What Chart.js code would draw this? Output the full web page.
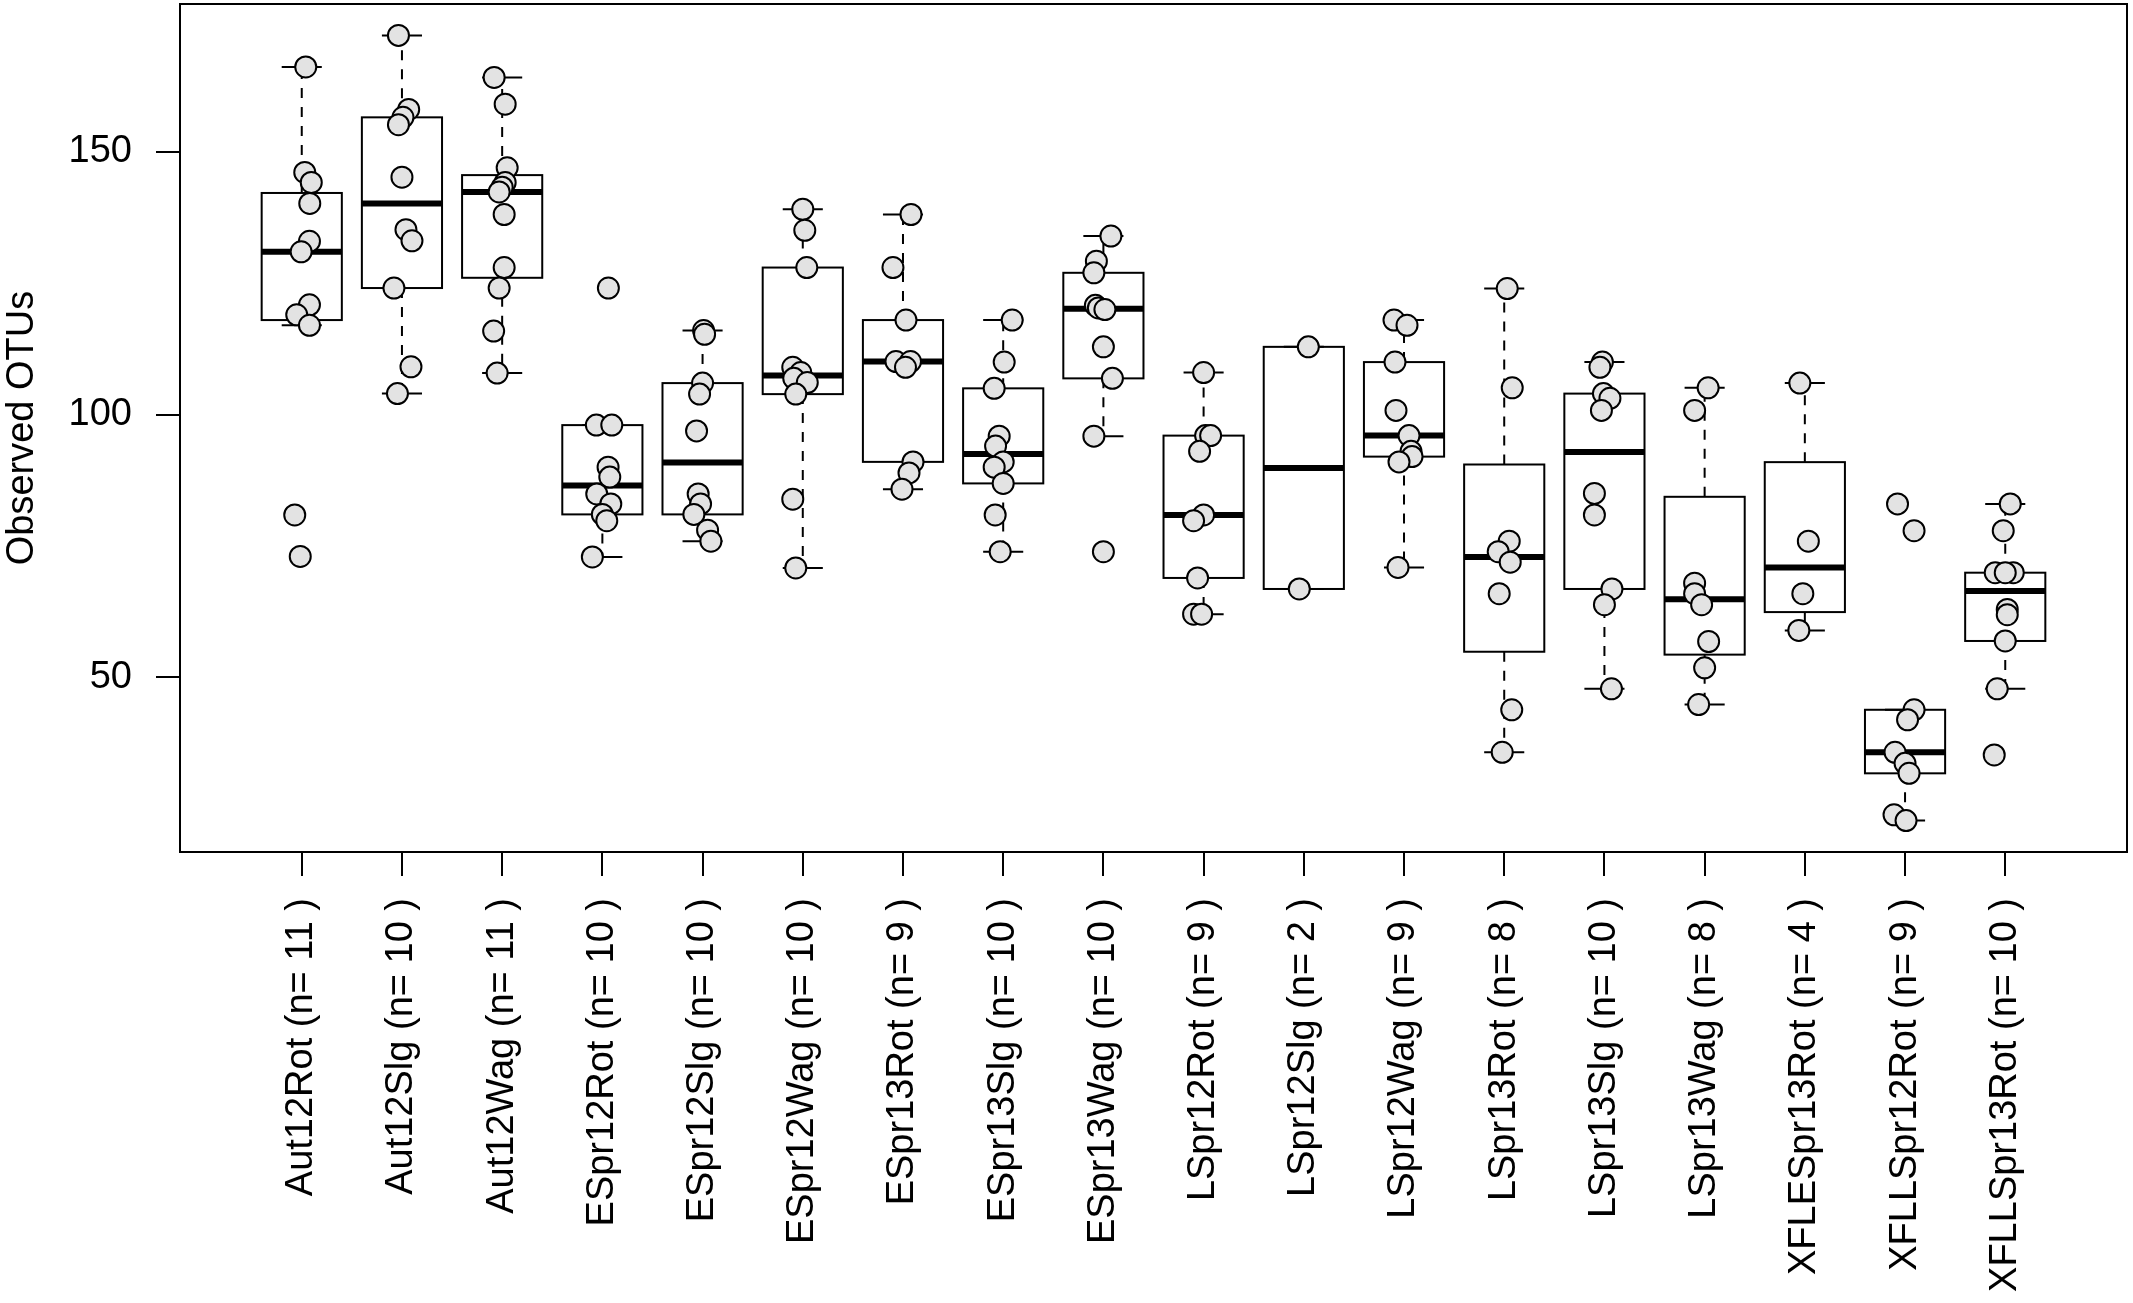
<!DOCTYPE html>
<html><head><meta charset="utf-8">
<script src="https://cdn.jsdelivr.net/npm/chart.js@4"></script>
<style>html,body{margin:0;padding:0;background:#fff}</style>
</head><body>
<canvas id="c" width="2133" height="1303" style="width:2133px;height:1303px;display:block"></canvas>
<script>
// ---- data ----
const categories = ["Aut12Rot","Aut12Slg","Aut12Wag","ESpr12Rot","ESpr12Slg","ESpr12Wag","ESpr13Rot","ESpr13Slg","ESpr13Wag","LSpr12Rot","LSpr12Slg","LSpr12Wag","LSpr13Rot","LSpr13Slg","LSpr13Wag","XFLESpr13Rot","XFLLSpr12Rot","XFLLSpr13Rot"];
const tickLabels = ["Aut12Rot (n= 11 )","Aut12Slg (n= 10 )","Aut12Wag (n= 11 )","ESpr12Rot (n= 10 )","ESpr12Slg (n= 10 )","ESpr12Wag (n= 10 )","ESpr13Rot (n= 9 )","ESpr13Slg (n= 10 )","ESpr13Wag (n= 10 )","LSpr12Rot (n= 9 )","LSpr12Slg (n= 2 )","LSpr12Wag (n= 9 )","LSpr13Rot (n= 8 )","LSpr13Slg (n= 10 )","LSpr13Wag (n= 8 )","XFLESpr13Rot (n= 4 )","XFLLSpr12Rot (n= 9 )","XFLLSpr13Rot (n= 10 )"];
const yTicks = [50, 100, 150];
const yTitle = "Observed OTUs";

const aut12Rot     = [166.2,146.1,144.2,140.2,133.0,131.0,120.9,119.0,117.0,80.9,73.0];
const aut12Slg     = [172.2,158.1,156.6,155.2,145.2,135.2,133.1,124.1,109.1,104.0];
const aut12Wag     = [164.2,159.1,147.0,144.2,143.3,142.4,138.1,128.0,124.1,115.9,107.9];
const eSpr12Rot    = [124.1,98.0,98.0,90.0,88.1,84.9,83.0,81.0,79.8,72.9];
const eSpr12Slg    = [116.0,115.3,106.0,103.9,96.9,84.9,83.0,81.0,78.0,75.9];
const eSpr12Wag    = [139.1,135.1,128.0,109.0,108.0,106.9,106.1,103.9,83.9,70.8];
const eSpr13Rot    = [138.1,128.0,118.0,110.1,110.1,109.0,91.0,88.9,85.8];
const eSpr13Slg    = [118.0,110.0,105.0,95.9,94.0,91.0,90.0,86.9,80.9,73.9];
const eSpr13Wag    = [134.0,129.2,127.0,120.8,120.3,120.0,112.9,106.9,95.9,73.9];
const lSpr12Rot    = [108.0,96.0,96.0,93.0,80.9,79.8,68.9,62.0,62.0];
const lSpr12Slg    = [112.9,66.8];
const lSpr12Wag    = [118.0,117.0,110.0,100.8,96.0,93.0,92.0,91.0,70.9];
const lSpr13Rot    = [124.0,105.1,75.9,73.9,71.9,65.9,43.8,35.7];
const lSpr13Slg    = [110.0,109.0,104.0,103.1,100.8,85.0,80.9,66.8,63.8,47.8];
const lSpr13Wag    = [105.1,100.8,67.9,65.9,63.8,56.8,51.8,44.8];
const xflESpr13Rot = [106.0,75.9,65.9,58.9];
const xflLSpr12Rot = [83.0,77.9,43.8,41.9,35.7,33.6,31.7,23.8,22.7];
const xflLSpr13Rot = [83.0,77.9,69.9,69.9,69.9,62.9,61.9,56.9,47.8,35.2];

// horizontal jitter of each point (category units)
const jAut12Rot     = [0.04,0.03,0.095,0.08,0.077,-0.006,0.077,-0.05,0.077,-0.07,-0.015];
const jAut12Slg     = [-0.035,0.067,0.01,-0.035,0,0.04,0.1,-0.08,0.09,-0.045];
const jAut12Wag     = [-0.08,0.03,0.05,0.03,0.0,-0.03,0.02,0.02,-0.03,-0.085,-0.05];
const jESpr12Rot    = [0.06,-0.06,0.094,0.057,0.074,-0.056,0.084,0,0.044,-0.1];
const jESpr12Slg    = [0.01,0.02,0,-0.03,-0.06,-0.044,-0.02,-0.087,0.05,0.083];
const jESpr12Wag    = [0,0.02,0.04,-0.1,-0.02,-0.09,0.045,-0.07,-0.1,-0.07];
const jESpr13Rot    = [0.08,-0.1,0.03,-0.07,0.075,0.025,0.1,0.06,-0.01];
const jESpr13Slg    = [0.09,0.01,-0.09,-0.04,-0.076,0,-0.09,0,-0.08,-0.03];
const jESpr13Wag    = [0.075,-0.07,-0.095,-0.08,-0.05,0.015,0,0.09,-0.095,0];
const jLSpr12Rot    = [0,0.02,0.07,-0.04,0,-0.1,-0.06,-0.1,-0.02];
const jLSpr12Slg    = [0.045,-0.045];
const jLSpr12Wag    = [-0.1,0.03,-0.09,-0.08,0.05,0.07,0.08,-0.05,-0.06];
const jLSpr13Rot    = [0.03,0.08,0.05,-0.06,0.06,-0.05,0.075,-0.02];
const jLSpr13Slg    = [-0.02,-0.045,-0.01,0.055,-0.03,-0.1,-0.1,0.075,0,0.07];
const jLSpr13Wag    = [0.035,-0.1,-0.1,-0.1,-0.03,0.04,0,-0.06];
const jXflESpr13Rot = [-0.05,0.035,-0.02,-0.06];
const jXflLSpr12Rot = [-0.075,0.09,0.09,0.025,-0.1,0,0.04,-0.11,0.01];
const jXflLSpr13Rot = [0.05,-0.02,-0.1,0.08,0.0,0.02,0.02,0,-0.08,-0.11];

const seriesValues = [aut12Rot,aut12Slg,aut12Wag,eSpr12Rot,eSpr12Slg,eSpr12Wag,eSpr13Rot,eSpr13Slg,eSpr13Wag,lSpr12Rot,lSpr12Slg,lSpr12Wag,lSpr13Rot,lSpr13Slg,lSpr13Wag,xflESpr13Rot,xflLSpr12Rot,xflLSpr13Rot];
const seriesJitter = [jAut12Rot,jAut12Slg,jAut12Wag,jESpr12Rot,jESpr12Slg,jESpr12Wag,jESpr13Rot,jESpr13Slg,jESpr13Wag,jLSpr12Rot,jLSpr12Slg,jLSpr12Wag,jLSpr13Rot,jLSpr13Slg,jLSpr13Wag,jXflESpr13Rot,jXflLSpr12Rot,jXflLSpr13Rot];

// ---- R-style box statistics (fivenum + 1.5 IQR whiskers) ----
function fivenum(x) {
  const s = [...x].sort((a, b) => a - b), n = s.length;
  const n4 = Math.floor((n + 3) / 2) / 2;
  return [1, n4, (n + 1) / 2, n + 1 - n4, n].map(p => 0.5 * (s[Math.floor(p) - 1] + s[Math.ceil(p) - 1]));
}
function boxStats(x) {
  const st = fivenum(x), iqr = st[3] - st[1];
  const lo = st[1] - 1.5 * iqr, hi = st[3] + 1.5 * iqr;
  const inl = x.filter(v => v >= lo && v <= hi);
  if (inl.length < x.length) { st[0] = Math.min(...inl); st[4] = Math.max(...inl); }
  return st;
}

const FONT = "'Liberation Sans', Arial, sans-serif";
const allValues = seriesValues.flat();
const dMin = Math.min(...allValues), dMax = Math.max(...allValues), pad = 0.04 * (dMax - dMin);

const boxPlugin = {
  id: 'rbox',
  beforeDatasetsDraw(chart) {
    const { ctx, chartArea: a } = chart, xs = chart.scales.x, ys = chart.scales.y;
    ctx.save();
    ctx.strokeStyle = '#000';
    ctx.lineCap = 'butt';
    seriesValues.forEach((vals, i) => {
      const c = i + 1, st = boxStats(vals);
      const xl = xs.getPixelForValue(c - 0.4), xr = xs.getPixelForValue(c + 0.4);
      const sl = xs.getPixelForValue(c - 0.2), sr = xs.getPixelForValue(c + 0.2);
      const xc = xs.getPixelForValue(c);
      const y = st.map(v => ys.getPixelForValue(v));
      ctx.lineWidth = 2;
      ctx.setLineDash([10, 9]);
      ctx.beginPath();
      ctx.moveTo(xc, y[3]); ctx.lineTo(xc, y[4]);
      ctx.moveTo(xc, y[1]); ctx.lineTo(xc, y[0]);
      ctx.stroke();
      ctx.setLineDash([]);
      ctx.beginPath();
      ctx.moveTo(sl, y[4]); ctx.lineTo(sr, y[4]);
      ctx.moveTo(sl, y[0]); ctx.lineTo(sr, y[0]);
      ctx.stroke();
      ctx.strokeRect(xl, y[3], xr - xl, y[1] - y[3]);
      ctx.lineWidth = 6;
      ctx.beginPath();
      ctx.moveTo(xl, y[2]); ctx.lineTo(xr, y[2]);
      ctx.stroke();
    });
    ctx.lineWidth = 2;
    ctx.strokeRect(a.left, a.top, a.right - a.left, a.bottom - a.top);
    ctx.restore();
  }
};

const points = [];
seriesValues.forEach((vals, i) => vals.forEach((v, k) => points.push({ x: i + 1 + seriesJitter[i][k], y: v })));

new Chart(document.getElementById('c'), {
  type: 'scatter',
  data: { datasets: [{
    data: points,
    pointRadius: 10.5, pointHoverRadius: 10.5,
    borderWidth: 2, borderColor: '#000', backgroundColor: '#e3e3e3'
  }] },
  options: {
    responsive: false, animation: false, devicePixelRatio: 1,
    layout: { autoPadding: false, padding: { top: 4, right: 6, left: 0, bottom: 0 } },
    plugins: { legend: { display: false }, tooltip: { enabled: false } },
    scales: {
      x: {
        type: 'linear', min: -0.215, max: 19.215,
        afterBuildTicks: s => { s.ticks = categories.map((_, i) => ({ value: i + 1 })); },
        afterFit: s => { s.height = 451; s.paddingLeft = 0; s.paddingRight = 0; },
        ticks: { autoSkip: false, minRotation: 90, maxRotation: 90, padding: 22, color: '#000',
                 font: { family: FONT, size: 38 }, callback: v => tickLabels[Math.round(v) - 1] },
        grid: { drawOnChartArea: false, drawTicks: true, tickLength: 24, color: '#000', lineWidth: 2 },
        border: { display: false }
      },
      y: {
        type: 'linear', min: dMin - pad, max: dMax + pad,
        afterBuildTicks: s => { s.ticks = yTicks.map(v => ({ value: v })); },
        afterFit: s => { s.width = 180; s.paddingTop = 0; s.paddingBottom = 0; },
        ticks: { padding: 24, color: '#000', font: { family: FONT, size: 38 } },
        grid: { drawOnChartArea: false, drawTicks: true, tickLength: 24, color: '#000', lineWidth: 2 },
        border: { display: false },
        title: { display: true, text: yTitle, color: '#000', padding: { top: 4, bottom: 0 },
                 font: { family: FONT, size: 38, lineHeight: 1 } }
      }
    }
  },
  plugins: [boxPlugin]
});
</script>
</body></html>
